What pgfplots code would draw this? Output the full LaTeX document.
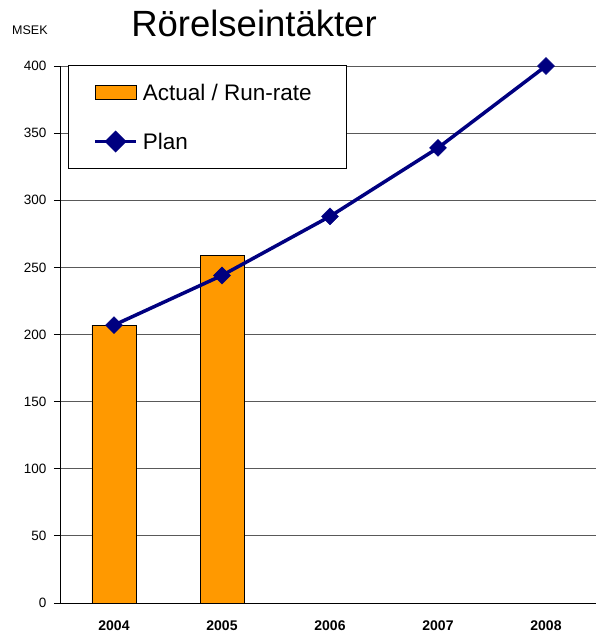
\documentclass[border=0pt]{standalone}
\usepackage{pgfplots}
\pgfplotsset{compat=1.18}
\usepackage{fontspec}
\setmainfont{Liberation Sans}
\definecolor{barorange}{RGB}{255,153,0}
\definecolor{plannavy}{RGB}{0,0,128}
\begin{document}
\begin{tikzpicture}[x=1pt,y=1pt]
\begin{axis}[
  at={(0pt,0pt)}, anchor=south west,
  scale only axis, width=540pt, height=537pt,
  xmin=-0.5, xmax=4.5, ymin=0, ymax=400,
  axis x line*=bottom, axis y line*=left,
  axis line style={black, line width=0.9pt, -},
  xtick={0,1,2,3,4},
  xticklabels={2004,2005,2006,2007,2008},
  xtick style={draw=none},
  minor xtick={-0.5,0.5,1.5,2.5,3.5,4.5},
  minor tick length=6pt, major tick length=6pt,
  tick align=outside,
  ytick={0,50,...,400},
  ytick style={black, line width=0.8pt},
  minor tick style={black, line width=0.8pt},
  ymajorgrids,
  major grid style={black!65, line width=0.9pt},
  xticklabel style={font=\fontsize{14}{16}\selectfont\bfseries, yshift=-8pt},
  yticklabel style={font=\fontsize{13.5}{15}\selectfont, xshift=-4pt},
  /pgf/number format/assume math mode=true,
  legend style={
    at={(0.0148,1.002)}, anchor=north west,
    draw=black, line width=0.8pt, fill=white,
    inner xsep=25pt, inner ysep=17pt,
    row sep=29pt, column sep=3pt,
    font=\fontsize{22.5}{27}\selectfont,
    nodes={inner sep=2pt, text height=16pt, text depth=0pt},
  },
  legend cell align=left,
  legend columns=1,
]
\addplot[ybar, bar width=44pt, fill=barorange, draw=black, line width=0.8pt,
  legend image code/.code={\draw[fill=barorange, draw=black, line width=0.8pt] (0pt,-7pt) rectangle (41pt,7pt);}]
  coordinates {(0,207) (1,259)};
\addlegendentry{Actual / Run-rate\rule{8pt}{0pt}}
\addplot[plannavy, line width=3.5pt, mark=square*, mark size=6pt,
  mark options={rotate=45, fill=plannavy, draw=plannavy, line width=0.5pt},
  legend image code/.code={\draw[plannavy, line width=3.5pt] (0pt,0pt) -- (41pt,0pt);
     \fill[plannavy, rotate around={45:(20.5pt,0pt)}] (14.5pt,-6pt) rectangle (26.5pt,6pt);}]
  coordinates {(0,207) (1,244) (2,288) (3,339) (4,400)};
\addlegendentry{Plan}
\end{axis}
\node[anchor=base, font=\fontsize{36.5}{40}\selectfont] at (194pt,566pt) {Rörelseintäkter};
\node[anchor=base west, font=\fontsize{12.5}{15}\selectfont, inner sep=0pt] at (-48pt,568pt) {MSEK};
\pgfresetboundingbox
\useasboundingbox (-60pt,-33pt) rectangle (535pt,603pt);
\end{tikzpicture}
\end{document}
